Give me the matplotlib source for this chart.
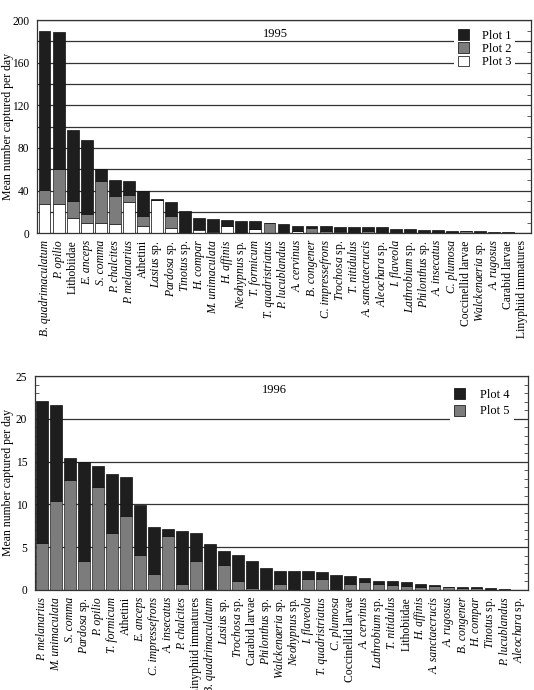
import matplotlib.pyplot as plt
from matplotlib.patches import Patch
from matplotlib.ticker import MultipleLocator, FuncFormatter
import numpy as np

plt.rcParams['font.family'] = ['Liberation Serif', 'DejaVu Serif']
plt.rcParams['mathtext.fontset'] = 'custom'
plt.rcParams['mathtext.it'] = 'Liberation Serif:italic'
plt.rcParams['mathtext.rm'] = 'Liberation Serif'

# 1995 data (Plot 1 black on top, Plot 2 grey middle, Plot 3 white bottom)
species_1995 = ['B. quadrimaculatum', 'P. opilio', 'Lithobiidae', 'E. anceps', 'S. comma',
                'P. chalcites', 'P. melanarius', 'Athetini', 'Lasius sp.', 'Pardosa sp.',
                'Tinotus sp.', 'H. compar', 'M. unimaculata', 'H. affinis', 'Neohypnus sp.',
                'T. formicum', 'T. quadristriatus', 'P. lucublandus', 'A. cervinus', 'B. congener',
                'C. impressefrons', 'Trochosa sp.', 'T. nitidulus', 'A. sanctaecrucis', 'Aleochara sp.',
                'I. flaveola', 'Lathrobium sp.', 'Philonthus sp.', 'A. insecatus', 'C. plumosa',
                'Coccinellid larvae', 'Walckenaeria sp.', 'A. rugosus', 'Carabid larvae',
                'Linyphiid immatures']
plot1_1995 = [149, 129, 67, 69, 11, 15, 13, 24, 1.5, 13,
              21, 11, 10.5, 5.5, 10.5, 7.5, 0, 8, 4.5, 2,
              5, 4.3, 4.5, 3.5, 5.2, 3.5, 3.2, 2.7, 1.3, 1,
              0.5, 1.5, 1.3, 1, 0.5]
plot2_1995 = [14, 33, 16, 8, 39, 26, 7, 9, 0, 11,
              0, 0.5, 1.5, 0, 0.5, 0.5, 9.5, 0.5, 0.5, 5,
              1.5, 1, 1, 2, 0.3, 0.5, 0.5, 0.3, 1.5, 1.5,
              2, 0.3, 0.3, 0.2, 0]
plot3_1995 = [27, 27, 14, 10, 10, 9, 29, 7, 31, 5,
              0, 3, 1, 7, 0.5, 3.5, 0, 0, 2, 0,
              0.5, 1, 0.5, 0, 0, 0, 0, 0, 0, 0,
              0, 0, 0, 0, 0]

# 1996 data (Plot 4 black on top, Plot 5 grey bottom)
species_1996 = ['P. melanarius', 'M. unimaculata', 'S. comma', 'Pardosa sp.', 'P. opilio',
                'T. formicum', 'Athetini', 'E. anceps', 'C. impressefrons', 'A. insecatus',
                'P. chalcites', 'Linyphiid immatures', 'B. quadrimaculatum', 'Lasius sp.',
                'Trochosa sp.', 'Carabid larvae', 'Philonthus sp.', 'Walckenaeria sp.',
                'Neohypnus sp.', 'I. flaveola', 'T. quadristriatus', 'C. plumosa',
                'Coccinellid larvae', 'A. cervinus', 'Lathrobium sp.', 'T. nitidulus',
                'Lithobiidae', 'H. affinis', 'A. sanctaecrucis', 'A. rugosus', 'B. congener',
                'H. compar', 'Tinotus sp.', 'P. lucublandus', 'Aleochara sp.']
plot4_1996 = [16.6, 11.2, 2.6, 11.6, 2.5, 6.9, 4.5, 5.8, 5.5, 0.8,
              6.2, 3.2, 5.4, 1.7, 3.1, 3.2, 2.6, 1.5, 2.2, 0.9,
              0.8, 1.8, 0.9, 0.45, 0.45, 0.4, 0.4, 0.35, 0.08, 0.05,
              0.1, 0.1, 0.25, 0.1, 0]
plot5_1996 = [5.5, 10.4, 12.8, 3.4, 12.0, 6.7, 8.7, 4.1, 1.9, 6.3,
              0.7, 3.4, 0, 2.9, 1.0, 0.2, 0, 0.75, 0, 1.3,
              1.25, 0, 0.7, 0.9, 0.65, 0.6, 0.5, 0.4, 0.45, 0.3,
              0.25, 0.2, 0, 0, 0]

ROMAN = {'Lithobiidae', 'Athetini', 'Coccinellid larvae', 'Carabid larvae', 'Linyphiid immatures'}
BLACK = '#1e1e1e'
GREY = '#7c7c7c'


def label_text(name):
    if name in ROMAN:
        return name
    if name.endswith(' sp.'):
        return r'$\mathit{%s}$ sp.' % name[:-4]
    return name


def style_axes(ax, labels, ymax, grid_step, label_step, minor_step, left_minor, label_x):
    x = np.arange(len(labels))
    ax.set_xticks(x)
    ax.set_xticklabels([label_text(s) for s in labels], rotation=90, fontsize=8.4)
    for t, s in zip(ax.get_xticklabels(), labels):
        if s not in ROMAN and not s.endswith(' sp.'):
            t.set_fontstyle('italic')
    ax.tick_params(axis='x', length=0, pad=5)
    ax.set_ylim(0, ymax)
    ax.yaxis.set_major_locator(MultipleLocator(grid_step))
    ax.yaxis.set_minor_locator(MultipleLocator(minor_step))
    ax.yaxis.set_major_formatter(FuncFormatter(
        lambda v, p: '%d' % v if abs(v / label_step - round(v / label_step)) < 1e-6 else ''))
    ax.tick_params(axis='y', which='major', left=False, right=False, labelsize=8.3, pad=2)
    ax.tick_params(axis='y', which='minor', left=left_minor, right=True, direction='in',
                   length=3, width=0.6, color='#444444')
    ax.grid(axis='y', which='major', color='#333333', linewidth=0.9)
    ax.set_axisbelow(True)
    for sp in ax.spines.values():
        sp.set_color('#333333')
        sp.set_linewidth(0.9)
    ax.set_ylabel('Mean number captured per day', fontsize=8.5)
    ax.yaxis.set_label_coords(label_x, 0.5)


fig = plt.figure(figsize=(5.34, 6.90), dpi=100)

# --- 1995 ---
ax1 = fig.add_axes([0.069, 0.662, 0.925, 0.309])
x1 = np.arange(len(species_1995))
p3 = np.array(plot3_1995)
p2 = np.array(plot2_1995)
p1 = np.array(plot1_1995)
w = 0.84
ax1.bar(x1, p3, w, color='white', edgecolor='black', linewidth=0.5)
ax1.bar(x1, p2, w, bottom=p3, color=GREY, edgecolor='#222222', linewidth=0.5)
ax1.bar(x1, p1, w, bottom=p3 + p2, color=BLACK, edgecolor='#111111', linewidth=0.5)
ax1.set_xlim(-0.55, 34.6)
style_axes(ax1, species_1995, 200, 20, 40, 10, False, -0.046)
ax1.text(0.484, 0.934, '1995', transform=ax1.transAxes, ha='center', va='center', fontsize=9)
h1 = [Patch(facecolor=BLACK, edgecolor='black', linewidth=0.5),
      Patch(facecolor=GREY, edgecolor='black', linewidth=0.5),
      Patch(facecolor='white', edgecolor='black', linewidth=0.5)]
ax1.legend(h1, ['Plot 1', 'Plot 2', 'Plot 3'], loc='upper right',
           bbox_to_anchor=(0.968, 0.975), fontsize=9, frameon=True,
           framealpha=1, edgecolor='none', fancybox=False, borderpad=0.3,
           labelspacing=0.05, handlelength=0.9, handleheight=0.95, handletextpad=1.0,
           borderaxespad=0)

# --- 1996 ---
ax2 = fig.add_axes([0.0655, 0.145, 0.924, 0.31])
x2 = np.arange(len(species_1996))
p5 = np.array(plot5_1996)
p4 = np.array(plot4_1996)
ax2.bar(x2, p5, w, color=GREY, edgecolor='#222222', linewidth=0.5)
ax2.bar(x2, p4, w, bottom=p5, color=BLACK, edgecolor='#111111', linewidth=0.5)
ax2.set_xlim(-0.5, 34.7)
style_axes(ax2, species_1996, 25, 5, 5, 1, True, -0.043)
ax2.text(0.485, 0.935, '1996', transform=ax2.transAxes, ha='center', va='center', fontsize=9)
h2 = [Patch(facecolor=BLACK, edgecolor='black', linewidth=0.5),
      Patch(facecolor=GREY, edgecolor='black', linewidth=0.5)]
ax2.legend(h2, ['Plot 4', 'Plot 5'], loc='upper right',
           bbox_to_anchor=(0.97, 0.96), fontsize=9, frameon=True,
           framealpha=1, edgecolor='none', fancybox=False, borderpad=0.3,
           labelspacing=0.3, handlelength=0.9, handleheight=0.95, handletextpad=1.2,
           borderaxespad=0)

fig.savefig('out.png', dpi=100)
